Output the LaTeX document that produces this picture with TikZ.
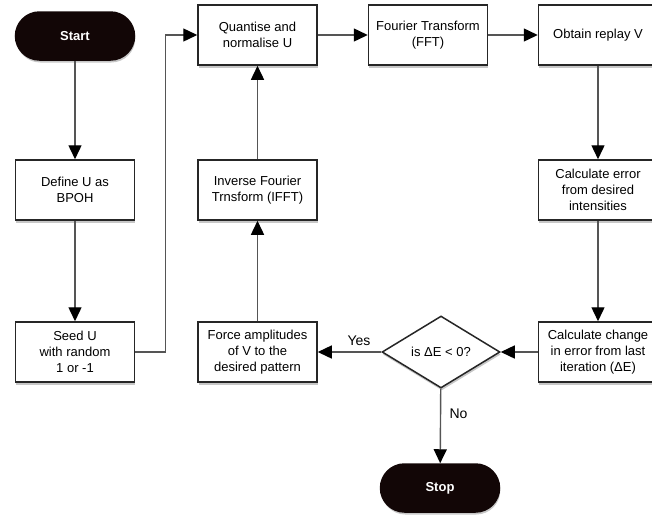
\documentclass[tikz,border=0pt]{standalone}
\usepackage{fontspec}
\setmainfont{Liberation Sans}
\usepackage{tikz}
\usetikzlibrary{positioning,arrows.meta,shapes.geometric,shadows}
\definecolor{tdark}{RGB}{18,6,6}
\definecolor{tline}{RGB}{85,85,85}

\begin{document}
\begin{tikzpicture}[x=1pt,y=-1pt,font=\fontsize{13}{16}\selectfont,
  shade/.style={drop shadow={shadow xshift=0.8pt,shadow yshift=-2.5pt,opacity=0.4,fill=black!55}},
  box/.style={draw=black!85,line width=1.5pt,fill=white,minimum width=119pt,minimum height=60pt,align=center,inner sep=2pt,shade},
  term/.style={box,fill=tdark,draw=tdark,text=white,font=\bfseries\fontsize{13}{16}\selectfont,rounded corners=24pt,minimum height=48pt},
  test/.style={diamond,draw=black!85,line width=1.5pt,fill=white,aspect=1.64,minimum width=118pt,minimum height=72pt,inner sep=0pt,shade},
  flow/.style={draw=tline,line width=1.4pt,-{Triangle[length=14pt,width=13pt,color=black]}},
  tag/.style={font=\fontsize{14}{16}\selectfont}]
  \useasboundingbox (0,0) rectangle (652,517);

  % left column
  \node[term] (start) at (75,36) {Start};
  \node[box] (define) at (75,190) {Define U as\\BPOH};
  \node[box] (seed) at (75,352) {Seed U\\with random\\1 or -1};

  % middle column
  \node[box] (quant) at (257.5,35) {Quantise and\\normalise U};
  \node[box] (ifft) at (257.5,190) {Inverse Fourier\\Trnsform (IFFT)};
  \node[box] (force) at (257.5,352) {Force amplitudes\\of V to the\\desired pattern};
  \node[box] (fft) at (428,35) {Fourier Transform\\(FFT)};

  % right column
  \node[box] (obtain) at (598,35) {Obtain replay V};
  \node[box] (calcerr) at (598,190) {Calculate error\\from desired\\intensities};
  \node[box] (calcchg) at (598,352) {Calculate change\\in error from last\\iteration (ΔE)};

  % decision
  \node[test] (decide) at (441,352) {is ΔE < 0?};
  \node[term] (stop) at (440,488) {Stop};

  \draw[flow] (start) -- (define);
  \draw[flow] (define) -- (seed);
  \draw[flow] (seed.east) -- ++(30,0) |- (quant.west);
  \draw[flow] (quant) -- (fft);
  \draw[flow] (fft) -- (obtain);
  \draw[flow] (obtain) -- (calcerr);
  \draw[flow] (calcerr) -- (calcchg);
  \draw[flow] (calcchg) -- (decide);
  \draw[flow] (decide) -- node[tag,pos=0.35,above=2pt] {Yes} (force);
  \draw[flow] (force) -- (ifft);
  \draw[flow] (ifft) -- (quant);
  \draw[flow] (decide) -- node[tag,pos=0.34,right=5pt] {No} (stop);
\end{tikzpicture}
\end{document}
